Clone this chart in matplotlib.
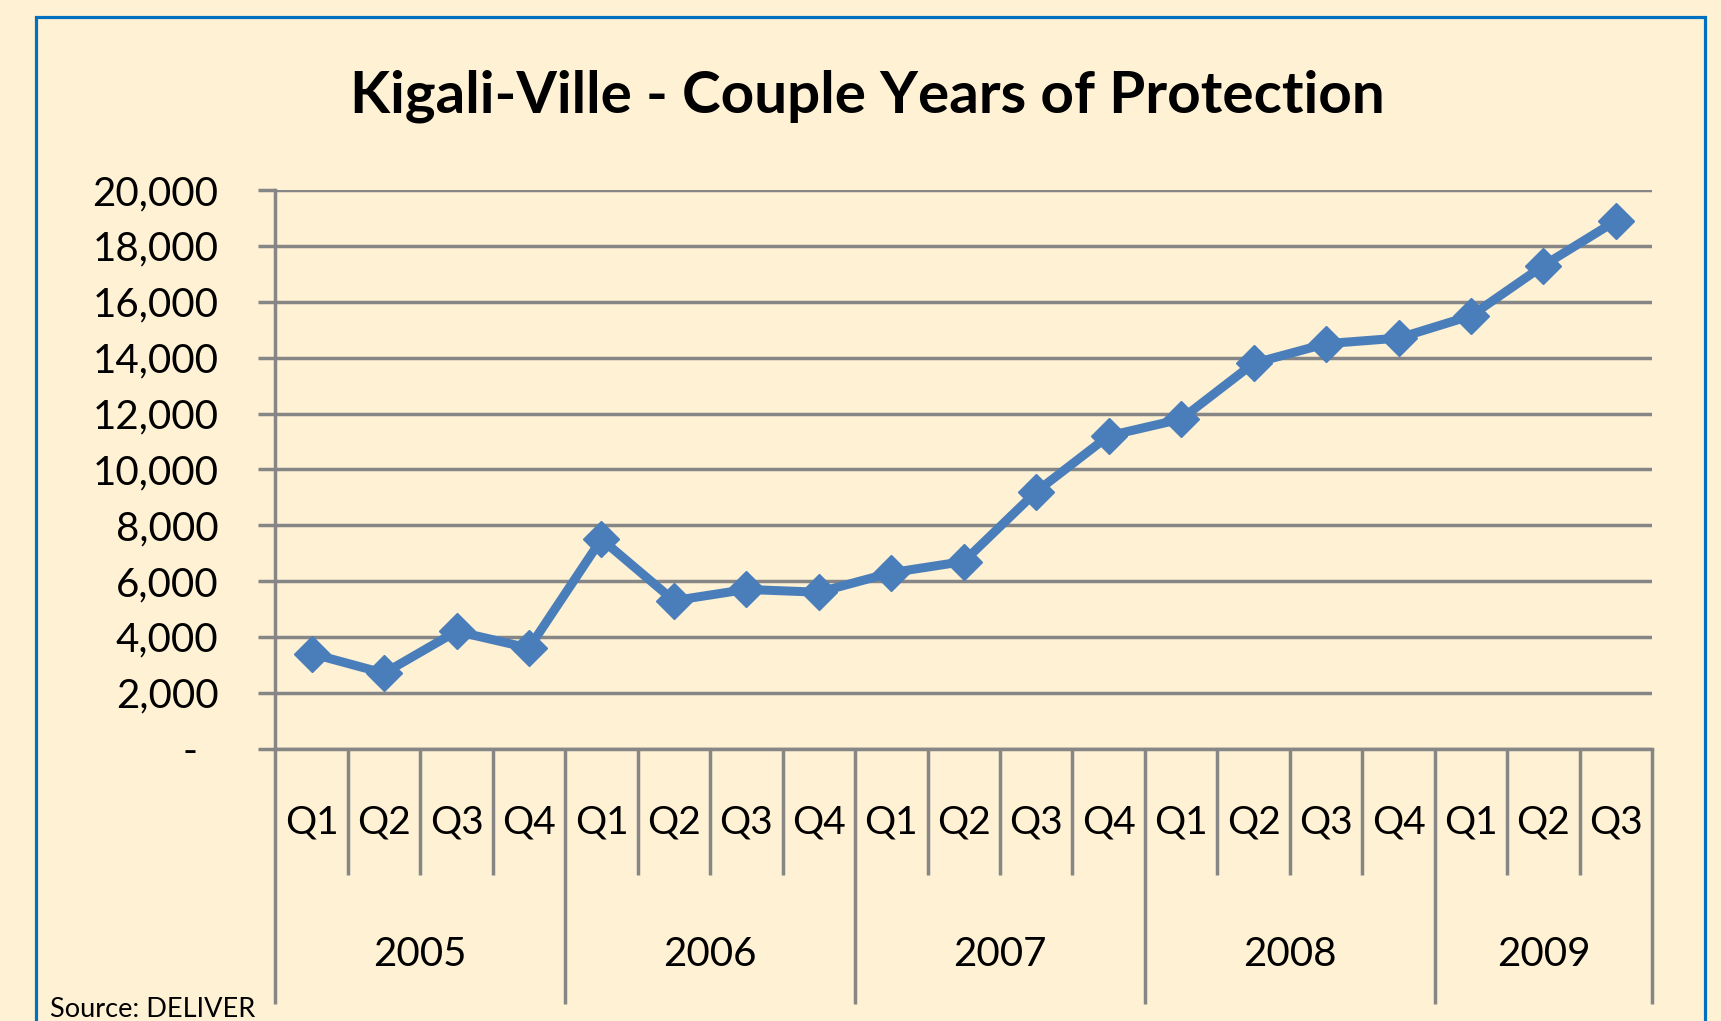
import numpy as np
import matplotlib.pyplot as plt
import matplotlib.patches as patches
from matplotlib.ticker import FuncFormatter

# Data
quarters = ["Q1", "Q2", "Q3", "Q4"] * 4 + ["Q1", "Q2", "Q3"]
years = ["2005", "2006", "2007", "2008", "2009"]
quarters_per_year = [4, 4, 4, 4, 3]
cyp = [3400, 2700, 4200, 3600, 7500, 5300, 5700, 5600, 6300, 6700,
       9200, 11200, 11800, 13800, 14500, 14700, 15500, 17300, 18900]

bg = "#FFF1D3"
grid_col = "#868686"
line_col = "#4A7EBB"

plt.rcParams["font.family"] = ["Lato", "DejaVu Sans"]

fig = plt.figure(figsize=(17.21, 10.21), dpi=100, facecolor=bg)
ax = fig.add_axes([0.160, 0.2668, 0.800, 0.547])
ax.set_facecolor(bg)

x = np.arange(len(cyp))
ax.plot(x, cyp, color=line_col, lw=6.5, marker="D", markersize=18,
        zorder=3, clip_on=False)

ax.set_xlim(-0.5, len(cyp) - 0.5)
ax.set_ylim(0, 20000)
ax.set_yticks(np.arange(0, 20001, 2000))
ax.yaxis.set_major_formatter(
    FuncFormatter(lambda v, p: "{:,.0f}".format(v) if v else "-  "))
ax.grid(axis="y", color=grid_col, lw=2.5)
ax.set_axisbelow(True)
ax.tick_params(axis="y", length=12, width=2.5, color=grid_col,
               labelsize=29, pad=29)
ax.set_xticks([])
for s in ["top", "right"]:
    ax.spines[s].set_visible(False)
for s in ["left", "bottom"]:
    ax.spines[s].set_color(grid_col)
    ax.spines[s].set_linewidth(2.5)

# two-level category axis
trans = ax.get_xaxis_transform()
q_label_y, year_label_y = -0.133, -0.368
q_line_end, year_line_end = -0.2263, -0.457

year_edges = np.concatenate([[0], np.cumsum(quarters_per_year)]) - 0.5
for b in np.arange(len(cyp) + 1) - 0.5:
    end = year_line_end if b in year_edges else q_line_end
    ax.plot([b, b], [0, end], transform=trans, color=grid_col, lw=2.5,
            clip_on=False, solid_capstyle="butt")

for i, q in enumerate(quarters):
    ax.text(i, q_label_y, q, transform=trans, ha="center", va="center",
            fontsize=28)
for i, yr in enumerate(years):
    ax.text((year_edges[i] + year_edges[i + 1]) / 2, year_label_y, yr,
            transform=trans, ha="center", va="center", fontsize=29)

fig.text(0.504, 0.906, "Kigali-Ville - Couple Years of Protection",
         ha="center", va="center", fontsize=42, fontweight="bold")
fig.text(0.029, 0.011, "Source: DELIVER", ha="left", va="center",
         fontsize=19.5)

# blue frame around the chart area
fig.add_artist(patches.Rectangle((36 / 1721, -0.02), 1669 / 1721, 1.0038,
                                 transform=fig.transFigure, fill=False,
                                 edgecolor="#0070C0", lw=2.3))

fig.savefig("out.png", dpi=100, facecolor=bg)
